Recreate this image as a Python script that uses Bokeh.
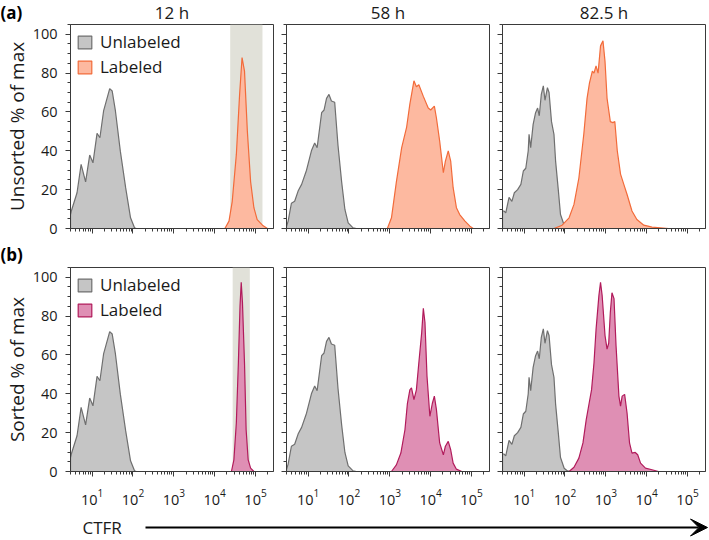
import numpy as np
from bokeh.plotting import figure
from bokeh.models import (Range1d, FixedTicker, LogTickFormatter, BoxAnnotation,
                          Legend, LegendItem, Label, Arrow, VeeHead)
from bokeh.layouts import row, column
from bokeh.embed import file_html
from bokeh.resources import INLINE

FONT = "Open Sans"

# ---------------- data ----------------
times = ["12 h", "58 h", "82.5 h"]
row_labels = ["Unsorted % of max", "Sorted % of max"]
panel_tags = ["(a)", "(b)"]
series_names = ["Unlabeled", "Labeled"]
axis_title = "CTFR"
x_tick_exponents = [1, 2, 3, 4, 5]
y_ticks = [0, 20, 40, 60, 80, 100]
x_limits_log = [0.47, 5.44]
y_limits = [0, 105]

# sort gates at 12 h (log10 CTFR)
gate_unsorted_12h = [4.38, 5.17]
gate_sorted_12h = [4.44, 4.86]

# unlabeled controls (log10 CTFR, % of max)
unl_12h_log = [0.47, 0.49, 0.63, 0.73, 0.84, 0.94, 1.02, 1.12, 1.19, 1.28, 1.43, 1.49,
               1.57, 1.69, 1.82, 1.94, 2.04, 2.08]
unl_12h_pct = [7, 9, 18.4, 33, 24, 37.8, 33.8, 49, 46.7, 60.5, 72, 70.8,
               60.5, 39.8, 21, 5.5, 0.3, 0]

unl_58h_log = [0.47, 0.51, 0.59, 0.67, 0.76, 0.84, 0.96, 1.08, 1.16, 1.22, 1.33, 1.39,
               1.45, 1.51, 1.57, 1.65, 1.73, 1.82, 1.90, 1.98, 2.10, 2.18]
unl_58h_pct = [1, 3.8, 13, 14, 19.6, 22.7, 30, 40, 44, 41.6, 59.6, 61,
               67, 69, 65.6, 65, 43, 24, 9.8, 2.9, 0.3, 0]

unl_82h_log = [0.47, 0.51, 0.55, 0.63, 0.70, 0.76, 0.84, 0.92, 0.98, 1.04, 1.10, 1.12,
               1.16, 1.22, 1.28, 1.33, 1.37, 1.42, 1.47, 1.51, 1.57, 1.61, 1.67, 1.73,
               1.77, 1.84, 1.89, 1.98, 2.06, 2.14]
unl_82h_pct = [9, 9, 8, 16, 14, 18.4, 20, 22.7, 29.6, 31, 40, 48.5,
               41.6, 53.6, 59.6, 62, 58, 69, 73.4, 66, 72.5, 70, 55, 48.5,
               34.7, 19, 7.2, 1.7, 0.3, 0]

# labeled cells, unsorted
lab_unsorted_12h_log = [4.25, 4.35, 4.43, 4.53, 4.61, 4.67, 4.73, 4.80, 4.88, 4.96,
                        5.04, 5.17, 5.29]
lab_unsorted_12h_pct = [0, 3.8, 14, 38, 69, 88, 81, 50, 24, 10.7, 4.6, 1.7, 0]

lab_unsorted_58h_log = [2.94, 3.04, 3.16, 3.29, 3.41, 3.49, 3.59, 3.65, 3.71, 3.82,
                        3.94, 4.00, 4.09, 4.14, 4.22, 4.31, 4.36, 4.43, 4.49, 4.55,
                        4.63, 4.71, 4.84, 4.96, 5.04]
lab_unsorted_58h_pct = [0, 5.5, 24, 41.6, 52, 64, 76, 73, 74, 68,
                        62, 61, 63, 57, 45, 28.7, 34.7, 40, 34.7, 21,
                        10.7, 7.2, 3.8, 1.2, 0]

lab_unsorted_82h_log = [1.73, 1.93, 2.10, 2.22, 2.34, 2.46, 2.54, 2.60, 2.67, 2.71,
                        2.76, 2.81, 2.87, 2.93, 2.98, 3.03, 3.11, 3.17, 3.22, 3.28,
                        3.36, 3.44, 3.52, 3.64, 3.76, 3.93, 4.13, 4.54]
lab_unsorted_82h_pct = [0, 1.7, 5.5, 12.4, 26, 48.5, 67, 75, 81, 80,
                        83.7, 80, 94, 96.6, 86, 67, 55, 54.5, 55, 40,
                        28, 22.7, 17.5, 9, 4.6, 1.7, 0.7, 0]

# labeled cells, sorted
lab_sorted_12h_log = [4.41, 4.47, 4.53, 4.58, 4.62, 4.65, 4.68, 4.73, 4.77, 4.82,
                      4.88, 4.96]
lab_sorted_12h_pct = [0, 6, 25, 56, 85, 97.4, 87, 56, 21.5, 6, 1.7, 0]

lab_sorted_58h_log = [3.04, 3.16, 3.27, 3.37, 3.43, 3.49, 3.53, 3.59, 3.65, 3.71,
                      3.78, 3.82, 3.86, 3.91, 3.98, 4.04, 4.09, 4.14, 4.22, 4.31,
                      4.36, 4.43, 4.49, 4.55, 4.63, 4.76]
lab_sorted_58h_pct = [0, 3.4, 9.5, 21.5, 35, 42, 43, 37, 42, 56,
                      71.5, 84, 76.7, 49, 28.4, 35, 38.8, 32, 14.7, 8.6,
                      13, 15.5, 11.2, 4.3, 1.2, 0]

lab_sorted_82h_log = [2.10, 2.22, 2.34, 2.44, 2.52, 2.59, 2.65, 2.71, 2.76, 2.83,
                      2.87, 2.91, 2.98, 3.03, 3.07, 3.11, 3.15, 3.20, 3.25, 3.32,
                      3.36, 3.40, 3.46, 3.52, 3.58, 3.64, 3.72, 3.78, 3.85, 3.97,
                      4.13, 4.29]
lab_sorted_82h_pct = [0, 2.2, 6.9, 14.7, 26.7, 35, 42, 56, 73, 90.5,
                      97.4, 90.5, 70, 63, 66, 82, 92, 89, 64.7, 38.8,
                      33.6, 38.8, 39.7, 30, 14.7, 9.5, 9.8, 8.6, 4.3, 1.7,
                      0.9, 0]

unlabeled = [(unl_12h_log, unl_12h_pct), (unl_58h_log, unl_58h_pct), (unl_82h_log, unl_82h_pct)]
labeled = [
    [(lab_unsorted_12h_log, lab_unsorted_12h_pct), (lab_unsorted_58h_log, lab_unsorted_58h_pct),
     (lab_unsorted_82h_log, lab_unsorted_82h_pct)],
    [(lab_sorted_12h_log, lab_sorted_12h_pct), (lab_sorted_58h_log, lab_sorted_58h_pct),
     (lab_sorted_82h_log, lab_sorted_82h_pct)],
]
gates = [gate_unsorted_12h, gate_sorted_12h]

# ---------------- style / layout ----------------
GRAY_FILL, GRAY_LINE = "#c5c5c5", "#6f6f6f"
ROW_FILL = ["#fdb9a0", "#df8fb4"]
ROW_LINE = ["#f26b3a", "#b11b5b"]
GATE_COLOR = "#e1e1d9"
AXIS_COLOR = "#3a3a3a"
TEXT_COLOR = "#1a1a1a"

FRAME_W, FRAME_H = 203, 204
BORDER_L = [70, 7, 7]
BORDER_R = [6, 6, 4]
FIG_W = [BORDER_L[i] + FRAME_W + BORDER_R[i] for i in range(3)]
TOTAL_W = sum(FIG_W)
FRAME_CENTERS = [sum(FIG_W[:i]) + BORDER_L[i] + FRAME_W / 2 for i in range(3)]
HEADER_H, MID_H, FOOT_H = 23, 30, 29
ROW_TOP = [1, 1]
ROW_BOTTOM = [8, 40]


def closed(log_x, pct):
    xs = [10 ** v for v in log_x]
    return [xs[0]] + xs + [xs[-1]], [0] + list(pct) + [0]


def hide_labels(ax):
    ax.major_label_text_font_size = "1px"
    ax.major_label_text_color = None
    ax.major_label_standoff = 0


def strip(height):
    s = figure(width=TOTAL_W, height=height, x_range=Range1d(0, TOTAL_W),
               y_range=Range1d(0, height), x_axis_location=None, y_axis_location=None,
               min_border=0, output_backend="svg", toolbar_location=None)
    s.grid.visible = False
    s.outline_line_color = None
    return s


def make_panel(r, c):
    first = c == 0
    top = r == 0
    p = figure(
        frame_width=FRAME_W, frame_height=FRAME_H,
        x_axis_type="log",
        x_range=Range1d(10 ** x_limits_log[0], 10 ** x_limits_log[1]),
        y_range=Range1d(*y_limits),
        output_backend="svg", toolbar_location=None,
        min_border_left=BORDER_L[c], min_border_right=BORDER_R[c],
        min_border_top=ROW_TOP[r], min_border_bottom=ROW_BOTTOM[r],
    )
    p.grid.visible = False
    p.outline_line_color = AXIS_COLOR
    p.outline_line_width = 1
    p.background_fill_color = "white"
    p.border_fill_color = "white"

    if c == 0:
        g = gates[r]
        p.add_layout(BoxAnnotation(left=10 ** g[0], right=10 ** g[1], fill_color=GATE_COLOR,
                                   fill_alpha=1.0, line_color=None, level="underlay"))

    ux, uy = closed(*unlabeled[c])
    r1 = p.patch(ux, uy, fill_color=GRAY_FILL, line_color=GRAY_LINE, line_width=1.2)
    lx, ly = closed(*labeled[r][c])
    r2 = p.patch(lx, ly, fill_color=ROW_FILL[r], line_color=ROW_LINE[r], line_width=1.2)

    majors = [10 ** e for e in x_tick_exponents]
    minors = [m * 10 ** e for e in range(0, 6) for m in range(2, 10)]
    p.xaxis.ticker = FixedTicker(ticks=majors, minor_ticks=minors)
    p.xaxis.formatter = LogTickFormatter()
    p.yaxis.ticker = FixedTicker(ticks=y_ticks, minor_ticks=list(range(0, 106, 5)))
    for ax in p.axis:
        ax.axis_line_color = AXIS_COLOR
        ax.major_tick_line_color = AXIS_COLOR
        ax.minor_tick_line_color = AXIS_COLOR
        ax.major_tick_out = 5
        ax.major_tick_in = 0
        ax.minor_tick_out = 3
        ax.minor_tick_in = 0
        ax.major_label_text_font = FONT
        ax.major_label_text_font_size = "14.5px"
        ax.major_label_text_color = TEXT_COLOR
    if top:
        for ax in p.xaxis:
            hide_labels(ax)
    else:
        p.xaxis.major_label_standoff = 12
    if first:
        p.yaxis.major_label_standoff = 8
        p.yaxis.axis_label = row_labels[r]
        p.yaxis.axis_label_text_font = FONT
        p.yaxis.axis_label_text_font_size = "19px"
        p.yaxis.axis_label_text_font_style = "normal"
        p.yaxis.axis_label_text_color = TEXT_COLOR
        p.yaxis.axis_label_standoff = 0
        legend = Legend(
            items=[LegendItem(label=series_names[0], renderers=[r1]),
                   LegendItem(label=series_names[1], renderers=[r2])],
            location="top_left", margin=6, padding=0,
            glyph_width=17, glyph_height=16, label_height=16, spacing=2,
            label_standoff=7, label_text_font=FONT, label_text_font_size="17px",
            label_text_color=TEXT_COLOR,
            border_line_color=None, background_fill_alpha=0,
        )
        p.add_layout(legend)
    else:
        for ax in p.yaxis:
            hide_labels(ax)
    return p


rows_figs = [[make_panel(r, c) for c in range(3)] for r in range(2)]

# header: panel tag (a) and time titles
header = strip(HEADER_H)
header.add_layout(Label(x=0, y=HEADER_H / 2, text=panel_tags[0], text_font=FONT,
                        text_font_size="17px", text_font_style="bold",
                        text_baseline="middle", text_align="left", text_color="black"))
for c in range(3):
    header.add_layout(Label(x=FRAME_CENTERS[c], y=HEADER_H / 2, text=times[c], text_font=FONT,
                            text_font_size="17px", text_baseline="middle", text_align="center",
                            text_color=TEXT_COLOR))

# middle strip: panel tag (b)
mid = strip(MID_H)
mid.add_layout(Label(x=0, y=12, text=panel_tags[1], text_font=FONT,
                     text_font_size="17px", text_font_style="bold",
                     text_baseline="middle", text_align="left", text_color="black"))

# footer: CTFR arrow
foot = strip(FOOT_H)
foot.add_layout(Arrow(end=VeeHead(size=17, fill_color="black", line_color="black"),
                      x_start=145, y_start=13, x_end=TOTAL_W - 2, y_end=13,
                      line_width=2, line_color="black"))
foot.add_layout(Label(x=82, y=13, text=axis_title, text_font=FONT, text_font_size="17px",
                      text_baseline="middle", text_align="left", text_color=TEXT_COLOR))

layout = column(header, row(*rows_figs[0]), mid, row(*rows_figs[1]), foot)

with open("out.html", "w") as f:
    f.write(file_html(layout, INLINE))
